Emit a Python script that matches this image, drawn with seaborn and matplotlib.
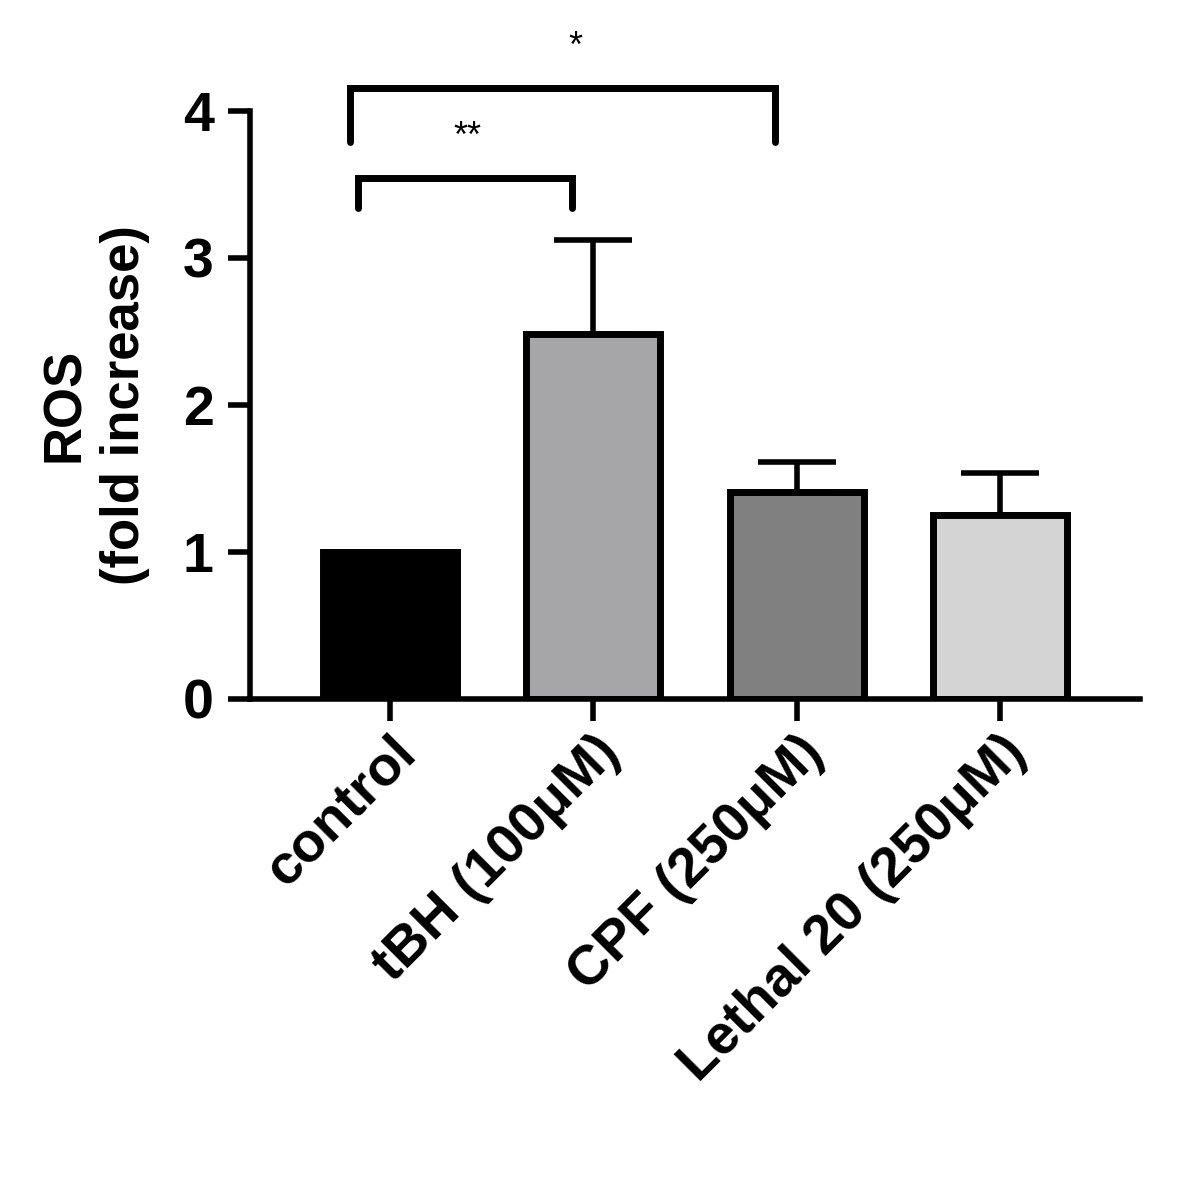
import matplotlib
matplotlib.use("Agg")
import matplotlib.pyplot as plt
import seaborn as sns
import pandas as pd

categories = ["control", "tBH (100\u03bcM)", "CPF (250\u03bcM)", "Lethal 20 (250\u03bcM)"]
means = [1.0, 2.48, 1.41, 1.25]
upper_err = [0.0, 0.64, 0.20, 0.29]
colors = ["#000000", "#a6a5aa", "#808080", "#d4d4d4"]

sns.set_style("ticks")
plt.rcParams['font.family'] = ['Liberation Sans', 'DejaVu Sans']
for k in ["text.color", "axes.labelcolor", "xtick.color", "ytick.color", "axes.edgecolor"]:
    plt.rcParams[k] = "black"
df = pd.DataFrame({"cat": categories, "val": means})

fig = plt.figure(figsize=(11.84, 12.01), dpi=100)
ax = fig.add_axes([0.211, 0.418, 0.752, 0.4896])
sns.barplot(data=df, x="cat", y="val", hue="cat", palette=colors, legend=False,
            width=0.66, edgecolor="black", linewidth=5, errorbar=None, ax=ax)
xs = list(range(len(categories)))
for x, m, e in zip(xs, means, upper_err):
    if e > 0:
        ax.errorbar(x, m, yerr=[[0], [e]], color="black", elinewidth=4,
                    capsize=28, capthick=4, zorder=1)
for b in ax.patches:
    b.set_zorder(2)

ax.set_xlim(-0.69, 3.69)
ax.set_ylim(0, 4)
ax.set_yticks([0, 1, 2, 3, 4])
ax.set_xlabel("")
ax.set_ylabel("ROS\n(fold increase)", fontsize=38, fontweight="bold", labelpad=24,
              linespacing=1.25)
for s in ["top", "right"]:
    ax.spines[s].set_visible(False)
for s in ["left", "bottom"]:
    ax.spines[s].set_linewidth(4)
ax.tick_params(axis="both", width=4, length=16, labelsize=40)
ax.tick_params(axis="y", pad=10)
for t in ax.get_yticklabels():
    t.set_fontweight("bold")
ax.set_xticks(xs)
ax.set_xticklabels(categories, rotation=45, ha="right", rotation_mode="anchor",
                   fontsize=40, fontweight="bold")

def bracket(x1, x2, ytop, ybot, label, xlab, ylab):
    ax.plot([x1, x1, x2, x2], [ybot, ytop, ytop, ybot], color="black", lw=5,
            clip_on=False, solid_joinstyle="miter")
    ax.text(xlab, ylab, label, ha="center", va="center", fontsize=26, clip_on=False)

bracket(-0.16, 0.895, 3.544, 3.34, "**", 0.38, 3.82)
bracket(-0.197, 1.894, 4.156, 3.79, "*", 0.91, 4.43)

fig.savefig("out.png", dpi=100)
